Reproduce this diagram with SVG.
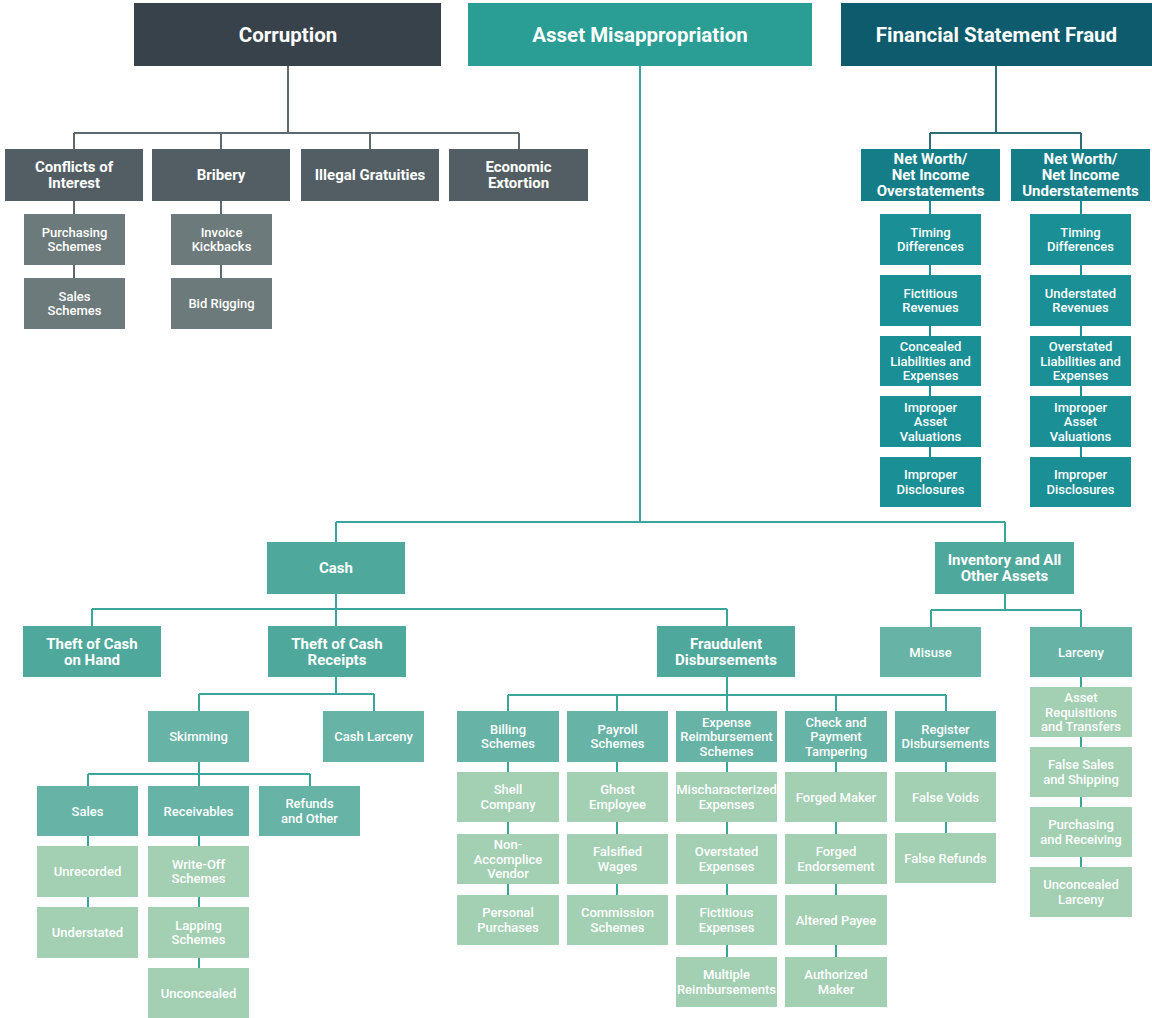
<svg xmlns="http://www.w3.org/2000/svg" width="1152" height="1018" viewBox="0 0 1152 1018">
  <style>
    text { font-family: Roboto, "Liberation Sans", sans-serif; fill: #ffffff; text-anchor: middle; }
    .h { font-size: 20.5px; font-weight: 700; }
    .m { font-size: 15px; font-weight: 700; }
    .s { font-size: 13px; font-weight: 500; }
    .c-top { fill: #37424b; }
    .c-l2 { fill: #525e64; }
    .c-l3 { fill: #6d7a7b; }
    .a-top { fill: #2a9e94; }
    .a-l1 { fill: #4fa89c; }
    .a-l2 { fill: #67b3a6; }
    .a-lf { fill: #a3cfb3; }
    .f-top { fill: #0d5b6c; }
    .f-l2 { fill: #157d87; }
    .f-l3 { fill: #1a8f96; }
    .ln { fill: none; stroke-width: 2; }
    .ln-c { stroke: #5d696e; }
    .ln-f { stroke: #2f6c75; }
    .ln-f2 { stroke: #1a8f96; }
    .ln-a { stroke: #3aa69b; }
  </style>

  <!-- connectors -->
  <g id="connectors">
    <!-- Corruption tree -->
    <path class="ln ln-c" d="M288,66 V133 M74,133 H519 M74,133 V149 M221,133 V149 M370,133 V149 M519,133 V149"/>
    <path class="ln ln-c" d="M74,201 V278 M221,201 V278"/>
    <!-- Financial statement fraud tree -->
    <path class="ln ln-f" d="M996,66 V133 M930,133 H1081 M930,133 V149 M1081,133 V149"/>
    <path class="ln ln-f2" d="M930,201 V457 M1081,201 V457"/>
    <!-- Asset misappropriation tree -->
    <path class="ln ln-a" d="M640,66 V522 M336,522 H1005 M336,522 V542 M1005,522 V542"/>
    <path class="ln ln-a" d="M336,594 V626 M92,609 H727 M92,609 V626 M727,609 V626"/>
    <path class="ln ln-a" d="M336,677 V694 M199,694 H374 M199,694 V711 M374,694 V711"/>
    <path class="ln ln-a" d="M199,762 V786 M88,774 H310 M88,774 V786 M310,774 V786"/>
    <path class="ln ln-a" d="M88,836 V907 M199,836 V968"/>
    <path class="ln ln-a" d="M727,677 V711 M508,695 H946 M508,695 V711 M617,695 V711 M836,695 V711 M946,695 V711"/>
    <path class="ln ln-a" d="M508,762 V895 M617,762 V895 M727,762 V957 M836,762 V957 M946,762 V833"/>
    <path class="ln ln-a" d="M1005,594 V610 M931,610 H1081 M931,610 V627 M1081,610 V867"/>
  </g>

  <!-- Corruption -->
  <g id="corruption"><rect class="c-top" x="134" y="3" width="307" height="63"/><text class="h" x="288" y="41.5">Corruption</text></g>
  <g id="conflicts-of-interest"><rect class="c-l2" x="5" y="149" width="138" height="52"/><text class="m" x="74"><tspan x="74" y="172.3">Conflicts of</tspan><tspan x="74" y="188.3">Interest</tspan></text></g>
  <g id="bribery"><rect class="c-l2" x="152" y="149" width="138" height="52"/><text class="m" x="221" y="180.3">Bribery</text></g>
  <g id="illegal-gratuities"><rect class="c-l2" x="301" y="149" width="138" height="52"/><text class="m" x="370" y="180.3">Illegal Gratuities</text></g>
  <g id="economic-extortion"><rect class="c-l2" x="449" y="149" width="139" height="52"/><text class="m" x="518.5"><tspan x="518.5" y="172.3">Economic</tspan><tspan x="518.5" y="188.3">Extortion</tspan></text></g>
  <g id="purchasing-schemes"><rect class="c-l3" x="24" y="214" width="101" height="51"/><text class="s"><tspan x="74.5" y="236.7">Purchasing</tspan><tspan x="74.5" y="251.2">Schemes</tspan></text></g>
  <g id="sales-schemes"><rect class="c-l3" x="24" y="278" width="101" height="51"/><text class="s"><tspan x="74.5" y="300.7">Sales</tspan><tspan x="74.5" y="315.2">Schemes</tspan></text></g>
  <g id="invoice-kickbacks"><rect class="c-l3" x="171" y="214" width="101" height="51"/><text class="s"><tspan x="221.5" y="236.7">Invoice</tspan><tspan x="221.5" y="251.2">Kickbacks</tspan></text></g>
  <g id="bid-rigging"><rect class="c-l3" x="171" y="278" width="101" height="51"/><text class="s" x="221.5" y="308">Bid Rigging</text></g>

  <!-- Financial Statement Fraud -->
  <g id="financial-statement-fraud"><rect class="f-top" x="841" y="3" width="311" height="63"/><text class="h" x="996.5" y="41.5">Financial Statement Fraud</text></g>
  <g id="nw-overstatements"><rect class="f-l2" x="861" y="149" width="139" height="52"/><text class="m"><tspan x="930.5" y="164.3">Net Worth/</tspan><tspan x="930.5" y="180.3">Net Income</tspan><tspan x="930.5" y="196.3">Overstatements</tspan></text></g>
  <g id="nw-understatements"><rect class="f-l2" x="1011" y="149" width="139" height="52"/><text class="m"><tspan x="1080.5" y="164.3">Net Worth/</tspan><tspan x="1080.5" y="180.3">Net Income</tspan><tspan x="1080.5" y="196.3">Understatements</tspan></text></g>
  <g id="over-timing"><rect class="f-l3" x="880" y="214" width="101" height="51"/><text class="s"><tspan x="930.5" y="236.7">Timing</tspan><tspan x="930.5" y="251.2">Differences</tspan></text></g>
  <g id="over-revenues"><rect class="f-l3" x="880" y="275" width="101" height="51"/><text class="s"><tspan x="930.5" y="297.7">Fictitious</tspan><tspan x="930.5" y="312.2">Revenues</tspan></text></g>
  <g id="over-liabilities"><rect class="f-l3" x="880" y="336" width="101" height="50"/><text class="s"><tspan x="930.5" y="351">Concealed</tspan><tspan x="930.5" y="365.5">Liabilities and</tspan><tspan x="930.5" y="380">Expenses</tspan></text></g>
  <g id="over-valuations"><rect class="f-l3" x="880" y="396" width="101" height="51"/><text class="s"><tspan x="930.5" y="411.5">Improper</tspan><tspan x="930.5" y="426">Asset</tspan><tspan x="930.5" y="440.5">Valuations</tspan></text></g>
  <g id="over-disclosures"><rect class="f-l3" x="880" y="457" width="101" height="50"/><text class="s"><tspan x="930.5" y="479.2">Improper</tspan><tspan x="930.5" y="493.7">Disclosures</tspan></text></g>
  <g id="under-timing"><rect class="f-l3" x="1030" y="214" width="101" height="51"/><text class="s"><tspan x="1080.5" y="236.7">Timing</tspan><tspan x="1080.5" y="251.2">Differences</tspan></text></g>
  <g id="under-revenues"><rect class="f-l3" x="1030" y="275" width="101" height="51"/><text class="s"><tspan x="1080.5" y="297.7">Understated</tspan><tspan x="1080.5" y="312.2">Revenues</tspan></text></g>
  <g id="under-liabilities"><rect class="f-l3" x="1030" y="336" width="101" height="50"/><text class="s"><tspan x="1080.5" y="351">Overstated</tspan><tspan x="1080.5" y="365.5">Liabilities and</tspan><tspan x="1080.5" y="380">Expenses</tspan></text></g>
  <g id="under-valuations"><rect class="f-l3" x="1030" y="396" width="101" height="51"/><text class="s"><tspan x="1080.5" y="411.5">Improper</tspan><tspan x="1080.5" y="426">Asset</tspan><tspan x="1080.5" y="440.5">Valuations</tspan></text></g>
  <g id="under-disclosures"><rect class="f-l3" x="1030" y="457" width="101" height="50"/><text class="s"><tspan x="1080.5" y="479.2">Improper</tspan><tspan x="1080.5" y="493.7">Disclosures</tspan></text></g>

  <!-- Asset Misappropriation -->
  <g id="asset-misappropriation"><rect class="a-top" x="468" y="3" width="344" height="63"/><text class="h" x="640" y="41.5">Asset Misappropriation</text></g>
  <g id="cash"><rect class="a-l1" x="267" y="542" width="138" height="52"/><text class="m" x="336" y="573.3">Cash</text></g>
  <g id="inventory"><rect class="a-l1" x="935" y="542" width="139" height="52"/><text class="m"><tspan x="1004.5" y="565.3">Inventory and All</tspan><tspan x="1004.5" y="581.3">Other Assets</tspan></text></g>
  <g id="theft-cash-on-hand"><rect class="a-l1" x="23" y="626" width="138" height="51"/><text class="m"><tspan x="92" y="648.8">Theft of Cash</tspan><tspan x="92" y="664.8">on Hand</tspan></text></g>
  <g id="theft-cash-receipts"><rect class="a-l1" x="268" y="626" width="138" height="51"/><text class="m"><tspan x="337" y="648.8">Theft of Cash</tspan><tspan x="337" y="664.8">Receipts</tspan></text></g>
  <g id="fraudulent-disbursements"><rect class="a-l1" x="657" y="626" width="138" height="51"/><text class="m"><tspan x="726" y="648.8">Fraudulent</tspan><tspan x="726" y="664.8">Disbursements</tspan></text></g>
  <g id="misuse"><rect class="a-l2" x="880" y="627" width="101" height="50"/><text class="s" x="930.5" y="656.5">Misuse</text></g>
  <g id="larceny"><rect class="a-l2" x="1030" y="627" width="102" height="50"/><text class="s" x="1081" y="656.5">Larceny</text></g>

  <g id="skimming"><rect class="a-l2" x="148" y="711" width="101" height="51"/><text class="s" x="198.5" y="741">Skimming</text></g>
  <g id="cash-larceny"><rect class="a-l2" x="323" y="711" width="101" height="51"/><text class="s" x="373.5" y="741">Cash Larceny</text></g>
  <g id="sales"><rect class="a-l2" x="37" y="786" width="101" height="50"/><text class="s" x="87.5" y="815.5">Sales</text></g>
  <g id="receivables"><rect class="a-l2" x="148" y="786" width="101" height="50"/><text class="s" x="198.5" y="815.5">Receivables</text></g>
  <g id="refunds-other"><rect class="a-l2" x="259" y="786" width="101" height="50"/><text class="s"><tspan x="309.5" y="808.2">Refunds</tspan><tspan x="309.5" y="822.7">and Other</tspan></text></g>
  <g id="unrecorded"><rect class="a-lf" x="37" y="846" width="101" height="51"/><text class="s" x="87.5" y="876">Unrecorded</text></g>
  <g id="understated"><rect class="a-lf" x="37" y="907" width="101" height="51"/><text class="s" x="87.5" y="937">Understated</text></g>
  <g id="write-off"><rect class="a-lf" x="148" y="846" width="101" height="51"/><text class="s"><tspan x="198.5" y="868.7">Write-Off</tspan><tspan x="198.5" y="883.2">Schemes</tspan></text></g>
  <g id="lapping"><rect class="a-lf" x="148" y="907" width="101" height="51"/><text class="s"><tspan x="198.5" y="929.7">Lapping</tspan><tspan x="198.5" y="944.2">Schemes</tspan></text></g>
  <g id="unconcealed"><rect class="a-lf" x="148" y="968" width="101" height="50"/><text class="s" x="198.5" y="997.5">Unconcealed</text></g>

  <g id="billing-schemes"><rect class="a-l2" x="457" y="711" width="102" height="51"/><text class="s"><tspan x="508" y="733.7">Billing</tspan><tspan x="508" y="748.2">Schemes</tspan></text></g>
  <g id="payroll-schemes"><rect class="a-l2" x="567" y="711" width="101" height="51"/><text class="s"><tspan x="617.5" y="733.7">Payroll</tspan><tspan x="617.5" y="748.2">Schemes</tspan></text></g>
  <g id="expense-schemes"><rect class="a-l2" x="676" y="711" width="101" height="51"/><text class="s"><tspan x="726.5" y="726.5">Expense</tspan><tspan x="726.5" y="741">Reimbursement</tspan><tspan x="726.5" y="755.5">Schemes</tspan></text></g>
  <g id="check-tampering"><rect class="a-l2" x="785" y="711" width="102" height="51"/><text class="s"><tspan x="836" y="726.5">Check and</tspan><tspan x="836" y="741">Payment</tspan><tspan x="836" y="755.5">Tampering</tspan></text></g>
  <g id="register-disbursements"><rect class="a-l2" x="895" y="711" width="101" height="51"/><text class="s"><tspan x="945.5" y="733.7">Register</tspan><tspan x="945.5" y="748.2">Disbursements</tspan></text></g>

  <g id="shell-company"><rect class="a-lf" x="457" y="772" width="102" height="50"/><text class="s"><tspan x="508" y="794.2">Shell</tspan><tspan x="508" y="808.7">Company</tspan></text></g>
  <g id="non-accomplice"><rect class="a-lf" x="457" y="834" width="102" height="50"/><text class="s"><tspan x="508" y="849">Non-</tspan><tspan x="508" y="863.5">Accomplice</tspan><tspan x="508" y="878">Vendor</tspan></text></g>
  <g id="personal-purchases"><rect class="a-lf" x="457" y="895" width="102" height="50"/><text class="s"><tspan x="508" y="917.2">Personal</tspan><tspan x="508" y="931.7">Purchases</tspan></text></g>
  <g id="ghost-employee"><rect class="a-lf" x="567" y="772" width="101" height="50"/><text class="s"><tspan x="617.5" y="794.2">Ghost</tspan><tspan x="617.5" y="808.7">Employee</tspan></text></g>
  <g id="falsified-wages"><rect class="a-lf" x="567" y="834" width="101" height="50"/><text class="s"><tspan x="617.5" y="856.2">Falsified</tspan><tspan x="617.5" y="870.7">Wages</tspan></text></g>
  <g id="commission-schemes"><rect class="a-lf" x="567" y="895" width="101" height="50"/><text class="s"><tspan x="617.5" y="917.2">Commission</tspan><tspan x="617.5" y="931.7">Schemes</tspan></text></g>
  <g id="mischaracterized"><rect class="a-lf" x="676" y="772" width="101" height="50"/><text class="s"><tspan x="726.5" y="794.2">Mischaracterized</tspan><tspan x="726.5" y="808.7">Expenses</tspan></text></g>
  <g id="overstated-expenses"><rect class="a-lf" x="676" y="834" width="101" height="50"/><text class="s"><tspan x="726.5" y="856.2">Overstated</tspan><tspan x="726.5" y="870.7">Expenses</tspan></text></g>
  <g id="fictitious-expenses"><rect class="a-lf" x="676" y="895" width="101" height="50"/><text class="s"><tspan x="726.5" y="917.2">Fictitious</tspan><tspan x="726.5" y="931.7">Expenses</tspan></text></g>
  <g id="multiple-reimbursements"><rect class="a-lf" x="676" y="957" width="101" height="50"/><text class="s"><tspan x="726.5" y="979.2">Multiple</tspan><tspan x="726.5" y="993.7">Reimbursements</tspan></text></g>
  <g id="forged-maker"><rect class="a-lf" x="785" y="772" width="102" height="50"/><text class="s" x="836" y="801.5">Forged Maker</text></g>
  <g id="forged-endorsement"><rect class="a-lf" x="785" y="834" width="102" height="50"/><text class="s"><tspan x="836" y="856.2">Forged</tspan><tspan x="836" y="870.7">Endorsement</tspan></text></g>
  <g id="altered-payee"><rect class="a-lf" x="785" y="895" width="102" height="50"/><text class="s" x="836" y="924.5">Altered Payee</text></g>
  <g id="authorized-maker"><rect class="a-lf" x="785" y="957" width="102" height="50"/><text class="s"><tspan x="836" y="979.2">Authorized</tspan><tspan x="836" y="993.7">Maker</tspan></text></g>
  <g id="false-voids"><rect class="a-lf" x="895" y="772" width="101" height="50"/><text class="s" x="945.5" y="801.5">False Voids</text></g>
  <g id="false-refunds"><rect class="a-lf" x="895" y="833" width="101" height="50"/><text class="s" x="945.5" y="862.5">False Refunds</text></g>

  <g id="asset-requisitions"><rect class="a-lf" x="1030" y="687" width="102" height="50"/><text class="s"><tspan x="1081" y="702">Asset</tspan><tspan x="1081" y="716.5">Requisitions</tspan><tspan x="1081" y="731">and Transfers</tspan></text></g>
  <g id="false-sales"><rect class="a-lf" x="1030" y="747" width="102" height="50"/><text class="s"><tspan x="1081" y="769.2">False Sales</tspan><tspan x="1081" y="783.7">and Shipping</tspan></text></g>
  <g id="purchasing-receiving"><rect class="a-lf" x="1030" y="807" width="102" height="50"/><text class="s"><tspan x="1081" y="829.2">Purchasing</tspan><tspan x="1081" y="843.7">and Receiving</tspan></text></g>
  <g id="unconcealed-larceny"><rect class="a-lf" x="1030" y="867" width="102" height="50"/><text class="s"><tspan x="1081" y="889.2">Unconcealed</tspan><tspan x="1081" y="903.7">Larceny</tspan></text></g>
</svg>
